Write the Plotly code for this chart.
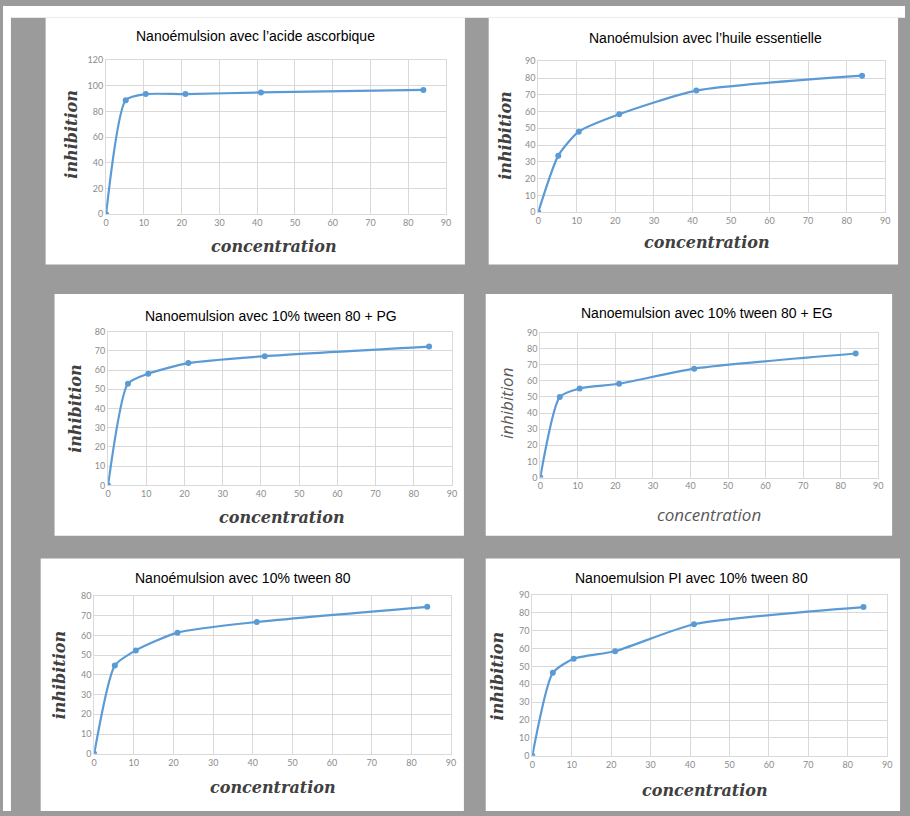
import plotly.graph_objects as go

W, H = 910, 816

# ---------------- data ----------------
concentration = [0, 5.2, 10.5, 21, 41, 84]

titles = [
    "Nanoémulsion avec l’acide ascorbique",
    "Nanoémulsion avec l’huile essentielle",
    "Nanoemulsion avec 10% tween 80 + PG",
    "Nanoemulsion avec 10% tween 80 + EG",
    "Nanoémulsion avec 10% tween 80",
    "Nanoemulsion PI avec 10% tween 80",
]

inh_acide_ascorbique = [0, 88.8, 93.6, 93.6, 94.9, 96.9]
inh_huile_essentielle = [0, 33.7, 48.0, 58.4, 72.5, 81.4]
inh_tween80_pg = [0, 52.9, 58.1, 63.6, 67.2, 72.2]
inh_tween80_eg = [0, 50.0, 55.3, 58.2, 67.6, 77.0]
inh_tween80 = [0, 44.7, 52.4, 61.4, 66.8, 74.5]
inh_pi_tween80 = [0, 46.4, 54.3, 58.5, 73.6, 83.2]

series = [inh_acide_ascorbique, inh_huile_essentielle, inh_tween80_pg,
          inh_tween80_eg, inh_tween80, inh_pi_tween80]

y_max = [120, 90, 80, 90, 80, 90]
y_step = [20, 10, 10, 10, 10, 10]
x_max = 90
x_step = 10

# ---------------- layout geometry (page pixels) ----------------
panels = [
    (43, 12, 466, 262),
    (490, 12, 903, 262),
    (52, 292, 465, 537),
    (487, 292, 897, 537),
    (38, 560, 465, 816),
    (487, 560, 905, 816),
]
plots = [
    (104, 55, 447, 211),
    (540, 56, 890, 209),
    (106, 330, 453, 486),
    (542, 331, 883, 478),
    (92, 598, 452, 758),
    (534, 597, 892, 760),
]
title_pos = [(255, 30), (709, 32), (270, 314), (710, 311), (242, 580), (695, 580)]
ytitle_pos = [(69, 130), (507, 132), (73, 408), (508, 403), (57, 678), (499, 680)]
xtitle_pos = [(273, 244), (710, 240), (281, 518), (712, 515), (272, 792), (708, 795)]
serif_titles = [True, True, True, False, True, True]

def px(x):
    return x / W

def py(y):
    return 1 - y / H

fig = go.Figure()

shapes = [
    dict(type="rect", xref="paper", yref="paper", x0=0, x1=1, y0=py(12), y1=1,
         fillcolor="white", line_width=0, layer="below"),
    dict(type="rect", xref="paper", yref="paper", x0=0, x1=px(8), y0=0, y1=1,
         fillcolor="white", line_width=0, layer="below"),
]
annotations = []

LINE = "#5b9bd5"
GRID = "#d9d9d9"
TICK = "#8c8c8c"

for i in range(6):
    n = i + 1
    xa = "x" if n == 1 else f"x{n}"
    ya = "y" if n == 1 else f"y{n}"
    bx0, by0, bx1, by1 = panels[i]
    shapes.append(dict(type="rect", xref="paper", yref="paper",
                       x0=px(bx0), x1=px(bx1), y0=py(by1), y1=py(by0),
                       fillcolor="white", line_width=0, layer="below"))
    fig.add_trace(go.Scatter(
        x=concentration, y=series[i], mode="lines+markers",
        line=dict(color=LINE, width=2.2, shape="spline", smoothing=0.6),
        marker=dict(color=LINE, size=6),
        xaxis=xa, yaxis=ya, showlegend=False, hoverinfo="x+y"))
    x0, yt, x1, yb = plots[i]
    axcommon = dict(showgrid=True, gridcolor=GRID, gridwidth=1, zeroline=False,
                    showline=True, linecolor=GRID, linewidth=1, mirror=True,
                    ticks="", tickfont=dict(family="Lato, Open Sans, sans-serif", size=9, color=TICK),
                    fixedrange=True)
    fig.layout[f"xaxis{'' if n == 1 else n}"] = dict(
        domain=[px(x0), px(x1)], range=[0, x_max], dtick=x_step, tick0=0,
        anchor=ya, **axcommon)
    fig.layout[f"yaxis{'' if n == 1 else n}"] = dict(
        domain=[py(yb), py(yt)], range=[0, y_max[i]], dtick=y_step[i], tick0=0,
        anchor=xa, **axcommon)

    tx, ty = title_pos[i]
    annotations.append(dict(text=titles[i], x=px(tx), y=py(ty), xref="paper", yref="paper",
                            showarrow=False, xanchor="center", yanchor="middle",
                            font=dict(family="Liberation Sans, Arial, sans-serif", size=14, color="black")))
    if serif_titles[i]:
        tfont = dict(family="DejaVu Serif, serif", size=16, color="#404040",
                     weight="bold", style="italic")
    else:
        tfont = dict(family="Open Sans, sans-serif", size=17, color="#595959",
                     style="italic")
    yx, yy = ytitle_pos[i]
    annotations.append(dict(text="inhibition", x=px(yx), y=py(yy), xref="paper", yref="paper",
                            showarrow=False, textangle=-90, xanchor="center", yanchor="middle",
                            font=tfont))
    cx, cy = xtitle_pos[i]
    annotations.append(dict(text="concentration", x=px(cx), y=py(cy), xref="paper", yref="paper",
                            showarrow=False, xanchor="center", yanchor="middle",
                            font=tfont))

fig.update_layout(
    width=W, height=H,
    margin=dict(l=0, r=0, t=0, b=0),
    paper_bgcolor="#9b9b9b",
    plot_bgcolor="white",
    shapes=shapes,
    annotations=annotations,
    showlegend=False,
)

# remove the browser's default body margin so the figure fills the window exactly
fig.write_html("out.html",
               config={"displayModeBar": False},
               post_script="document.body.style.margin='0';document.body.style.overflow='hidden';")
